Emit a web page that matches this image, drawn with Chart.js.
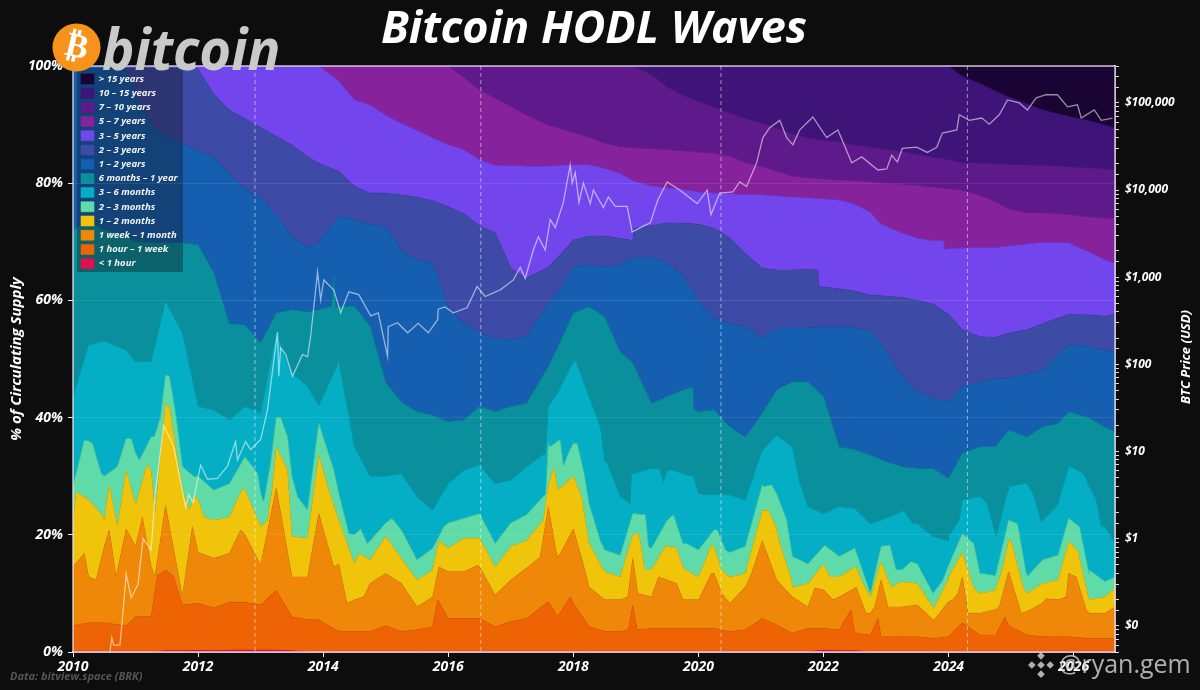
<!DOCTYPE html>
<html><head><meta charset="utf-8"><title>Bitcoin HODL Waves</title>
<style>html,body{margin:0;padding:0;background:#0d0d0d}canvas{display:block}</style>
<script src="https://cdn.jsdelivr.net/npm/chart.js@4/dist/chart.umd.js"></script>
</head><body><canvas id="c" width="1200" height="690"></canvas>
<script>
const years=[2010,2010.25,2010.5,2010.85,2011,2011.25,2011.48,2011.75,2012,2012.25,2012.5,2012.75,2013,2013.25,2013.5,2013.75,2013.93,2014.25,2014.5,2014.75,2015,2015.25,2015.5,2015.75,2016,2016.25,2016.5,2016.75,2017,2017.25,2017.6,2017.75,2018,2018.25,2018.5,2018.75,2018.95,2019.25,2019.5,2019.75,2020,2020.25,2020.5,2020.75,2021.02,2021.25,2021.5,2021.75,2022,2022.25,2022.5,2022.75,2022.92,2023.25,2023.5,2023.75,2024,2024.22,2024.5,2024.75,2024.96,2025.25,2025.5,2025.75,2025.92,2026.25,2026.5,2026.66];
// Upper edge of each age band, in % of circulating supply
const topLt1h=[0.1,0.1,0.1,0.1,0.1,0.1,0.2,0.2,0.3,0.2,0.3,0.3,0.3,0.3,0.2,0.1,0.1,0.1,0.1,0.1,0.1,0.1,0.1,0.1,0.1,0.1,0.1,0.1,0.1,0.1,0.1,0.1,0.1,0.1,0.1,0.1,0.1,0.1,0.1,0.1,0.1,0.1,0.1,0.1,0.1,0.1,0.1,0.1,0.3,0.2,0.2,0.1,0.1,0.1,0.1,0.1,0.1,0.1,0.1,0.1,0.1,0.1,0.1,0.1,0.1,0.1,0.1,0.1];
const top1h1w=[4.5,5,5,4.5,6,6,14,8,8.3,7.5,8.5,8.5,8,10.5,6,5.5,5.5,3.5,3.5,3.5,4.5,3.5,3.8,4.3,5.7,5.7,5.7,4.3,5.2,5.7,8.6,6,8.3,4.3,3.5,3.5,8,4,4,4,4,4,3.5,3.8,5.7,4.6,3.2,4,4,3.8,3.2,2.9,2.6,2.6,2.6,2.3,2.6,5,2.9,2.9,4.5,2.9,2.6,2.6,2.6,2.3,2.3,2.3];
const top1w1m=[14.5,12.8,18,21,18,14.5,25,9.4,17,16,16.8,20,14.8,28,12.8,12.8,23.6,15,8.9,11.7,13.4,11.7,7.7,9.4,13.7,13.7,14.5,9.7,12.3,14.3,24.8,16,21,11.1,8.9,8.9,16,9.4,12.3,8.9,8.9,13.4,8.3,11.1,19,12.3,9.4,7.7,10.6,9.4,10.9,6.6,12.3,7.7,8,5.5,8.6,12.8,6.6,7.2,13.7,6.9,8.3,8.9,13.4,6.6,6.6,7.7];
const top1m2m=[22.5,26,22.5,31,25,31,42.4,27.6,26,22.5,23,27.6,21.4,35,19.7,19.4,33.6,22.5,15,15.7,19.7,16,12.3,14,17.7,19.4,19.4,14.5,18,19,28.4,27.6,30,18.5,13.7,12.8,20,14,18,14.5,12.8,18,12.8,13.4,24,21,11,11.7,15,12.8,14.5,9.4,15.4,12,11.7,7.7,12.8,17,10,10.6,19,10,11.7,12.3,18.8,8.9,9.4,10.9];
const top2m3m=[28.2,36,30,36.4,33.9,36.7,47.3,31.6,30,27.6,28.7,33.3,27,40,30,24.2,39,27,20,19,22,20.8,15.7,17.7,22,22.8,23.6,18.5,22,23.4,35.6,36,35.6,25.3,17.4,16.5,23.6,17.7,22.5,18.5,17.4,20.8,17,18,28.5,27,16.3,15,18,16.3,17.7,10,18,14,15,10,14.8,20.2,13.4,13,22.5,12.8,15.7,16.5,22.8,13,12,12.8];
const top3m6m=[43.5,52.4,53,51.5,49.5,49.5,59.8,54.4,41.9,41.3,39.6,41.9,40.7,54.4,47.6,45.3,42,49.5,35,30,30,30.4,26.5,24.2,28.7,31,31.9,28.7,29.3,31.6,41.9,44.2,49.5,43.6,32.7,26.5,30.4,31.3,31,30.4,27,26.8,26.8,25.9,34.4,37,35,24.8,23.6,24.8,24.5,21.9,22.5,23.9,21.9,19.7,19.7,25.9,26.5,20.2,28.2,28.7,22.5,25.3,31.6,28.2,21.4,18.5];
const top6m1y=[72,73.5,72,71,70,69.8,69.8,69.8,69.5,64.7,56,55.8,52.7,57.8,58.4,58,58.4,59,59,55.6,46,42.7,41,40.4,39.3,39.6,41.9,41,41.9,42.4,48.7,52,57.8,58.9,57.2,51.2,49.3,42.4,43.6,44.7,41,41.3,38.4,36.7,40.7,44.7,46.1,46.1,43.6,35,34.5,33.6,32.8,31.6,31.3,31.3,29.6,33.9,35,35,37.9,36.7,38.4,39,41,39.9,38.4,37.6];
const top1y2y=[100,100,100,99,95,90,88,86.8,85.6,84.4,81.5,79,77.5,74.5,71,69,70,74.3,73.7,73,72.6,68.6,66.9,66.3,58.9,56,54.4,53.5,53.2,53.8,59.5,61.2,65.7,66,65.7,66,67.2,67.4,66.3,64.3,59.8,57,56,55.5,53.6,55.3,55.3,55.3,55.5,55.5,55.3,54.7,52.7,47,44.4,43.3,42.7,45.3,46.1,46.7,46.7,47.3,48,50.7,52.4,52.1,51.5,51.2];
const top2y3y=[100,100,100,100,100,100,100,100,99.5,95.2,92.5,91,89.5,88,86.5,84.5,83.4,82,79.5,78.3,78.3,78,77.6,77,76,74.8,72.7,71.5,65.5,63.8,65.7,67.3,70.3,71,71,70.6,70.2,72.8,73.2,73.2,73,72.3,70.7,68,65.5,65.2,65.2,65.3,62.3,62,61.6,60.9,60.8,60.5,60,59.4,57.6,55,53.8,53.7,54.4,55,56,57,57.6,57.5,57.3,57.7];
const top3y5y=[100,100,100,100,100,100,100,100,100,100,100,100,100,100,100,100,100,97.4,94.2,93.3,91.6,90.2,89,87.7,86.5,85.7,84,83,83,82.9,82.9,83,83.1,83.1,82.5,81.6,80.4,79.5,79.2,78.9,78.5,78.3,78.2,78,78,77.8,77.6,77.5,77.3,77.1,76.4,75,73,71.5,70.6,70.2,68.8,68.9,69,69,69.3,69.6,69.9,69.8,69.8,68.2,66.9,66.3];
const top5y7y=[100,100,100,100,100,100,100,100,100,100,100,100,100,100,100,100,100,100,100,100,100,100,100,100,100,98,95.9,94.5,93.1,91.6,89.9,89.4,88.6,87.8,86.8,86.2,86,85.9,85.7,85.5,85.3,85.1,84.6,83.5,82.8,82,81.2,80.9,80.7,80.5,80.4,80.2,80,79.8,79.6,79.3,79,78.8,77.9,76.8,75.6,74.9,74.9,74.8,74.6,74.2,74,74];
const top7y10y=[100,100,100,100,100,100,100,100,100,100,100,100,100,100,100,100,100,100,100,100,100,100,100,100,100,100,100,100,100,100,100,100,100,100,100,100,100,98.5,96.4,95,94,92.9,92,91,90.2,89.4,88.4,87.7,87.3,87,86.5,86.1,85.8,85.4,84.9,84.4,84,83.5,83.4,83.3,83.2,83.1,83,82.9,82.8,82.6,82.4,82.3];
const top10y15y=[100,100,100,100,100,100,100,100,100,100,100,100,100,100,100,100,100,100,100,100,100,100,100,100,100,100,100,100,100,100,100,100,100,100,100,100,100,100,100,100,100,100,100,100,100,100,100,100,100,100,100,100,100,100,100,100,100,98.2,97,95.7,94.7,93.5,92.5,91.8,91.4,90.6,89.9,89.4];
const topAll=[100,100,100,100,100,100,100,100,100,100,100,100,100,100,100,100,100,100,100,100,100,100,100,100,100,100,100,100,100,100,100,100,100,100,100,100,100,100,100,100,100,100,100,100,100,100,100,100,100,100,100,100,100,100,100,100,100,100,100,100,100,100,100,100,100,100,100,100];
// Additional vertices read at peaks, troughs and steps of individual edges
const moreYears1h1w=[2011.35,2011.6,2015.83,2017.95,2018.88,2019.02,2022.44,2022.87,2024.9];
const moreTop1h1w=[13,13,8.9,9.4,3.8,3.8,7.2,5.7,6];
const moreYears1w1m=[2010.18,2010.37,2010.58,2010.69,2011.11,2011.31,2011.91,2012.68,2014.17,2014.38,2014.65,2015.85,2016.47,2017.47,2017.71,2018.17,2018.87,2019.03,2019.36,2019.65,2020.21,2020.37,2020.85,2021.35,2021.86,2022.15,2022.52,2022.68,2022.82,2023.03,2023.75,2024.07,2024.15,2024.31,2024.81,2025.08,2025.16,2025.56,2025.88,2026.04,2026.2];
const moreTop1w1m=[16.8,12.3,20.8,12.8,23,12.8,21.4,20.8,14.5,8.3,9.4,14.5,14.8,16.2,18,14.5,9.4,10,12.8,11.7,13.4,10,13.4,11.1,10.9,8.9,11.1,6.6,7.7,7.7,5.2,8.9,10,6.6,7.7,9.4,6.6,9.1,9.4,12.8,7.2];
const moreYears1m2m=[2010.05,2010.45,2010.58,2010.71,2011.18,2011.31,2011.54,2011.64,2011.86,2011.94,2012.1,2012.71,2013.11,2013.19,2013.43,2014.09,2014.57,2015.85,2017.52,2017.69,2018.13,2019.05,2019.14,2019.48,2019.65,2019.8,2020.21,2020.37,2021.04,2021.12,2021.3,2021.49,2022.1,2022.52,2022.63,2023.08,2023.75,2023.99,2024.4,2024.87,2025,2025.19,2026.06,2026.22];
const moreTop1m2m=[27.3,23.6,28.5,21.4,31.9,23.6,41.8,35,24.2,26.5,23,27.9,22.5,28.2,31,27.6,16.8,19,22.5,31.5,26.5,20.2,14,18.2,17.7,14,18.2,14,24.2,24.2,18.5,12.3,12.8,14.5,11.7,11.1,7.2,12.3,10.9,14.5,19,11.1,17.4,10];
const moreYears2m3m=[2010.18,2010.31,2010.45,2010.71,2010.93,2011.06,2011.3,2011.4,2011.54,2011.64,2011.94,2012.95,2013.05,2013.16,2013.32,2013.43,2013.59,2014.17,2014.41,2014.6,2014.7,2015.1,2015.85,2015.93,2017.56,2017.63,2017.79,2017.84,2017.92,2018.06,2018.17,2018.43,2019.15,2019.2,2019.6,2019.81,2020.3,2020.43,2021.04,2021.17,2021.41,2022.02,2023.06,2023.16,2023.4,2023.91,2024.4,2024.52,2025.1,2025.24,2026.09,2026.25];
const moreTop2m3m=[36.1,35.6,30.5,31.6,36.4,32.7,36.7,40,47,40.7,29.9,30.5,25.6,32.2,40,36.7,26.5,31,20.2,21,18.5,22.8,19.7,21.4,27,35,36.1,31.6,33.9,35.6,30.5,19,23.4,18,23.4,18.5,20.8,17.4,28.2,28.5,22.5,18.2,18.2,14,15.4,12.3,18.5,13.4,21.9,13.4,21.4,14];
const moreYears3m6m=[2017.56,2018.03,2018.43,2018.54,2018.91,2018.93,2019.38,2019.44,2019.6,2019.92,2020.08,2021.62,2023.28,2023.43,2023.99,2024.17,2024.6,2024.76,2024.95,2025.24,2025.35,2025.48,2025.72,2025.96,2026.15,2026.36,2026.44];
const moreTop3m6m=[34,49.8,38.4,32.2,25.3,30.5,31.3,28.8,31,29.9,26.8,28.8,24.2,21.9,19,22.5,25.6,19.6,27.6,28.8,27,22.2,24.8,31.6,30.5,25.9,21.4];
const moreYears6m1y=[2014.14,2014.17,2014.2,2019.91,2019.92];
const moreTop6m1y=[59,64,59,45.2,41.5];
const moreYears2y3y=[2018.96,2021.91,2021.92];
const moreTop2y3y=[72.3,65.2,62.4];
const moreYears3y5y=[2023.92,2023.93];
const moreTop3y5y=[70.2,68.7];
const none=[];
const bandLabels=['< 1 hour','1 hour – 1 week','1 week – 1 month','1 – 2 months','2 – 3 months','3 – 6 months','6 months – 1 year','1 – 2 years','2 – 3 years','3 – 5 years','5 – 7 years','7 – 10 years','10 – 15 years','> 15 years'];
const bandColors=['#e0124c','#ee6405','#ef8808','#efc40a','#5edba8','#04aec4','#0a8f9c','#155eb0','#3d4ba6','#7346ed','#85229c','#5e1a8a','#3f1478','#1a0433'];
const bandTops=[topLt1h,top1h1w,top1w1m,top1m2m,top2m3m,top3m6m,top6m1y,top1y2y,top2y3y,top3y5y,top5y7y,top7y10y,top10y15y,topAll];
const bandMoreYears=[none,moreYears1h1w,moreYears1w1m,moreYears1m2m,moreYears2m3m,moreYears3m6m,moreYears6m1y,none,moreYears2y3y,moreYears3y5y,none,none,none,none];
const bandMoreTops=[none,moreTop1h1w,moreTop1w1m,moreTop1m2m,moreTop2m3m,moreTop3m6m,moreTop6m1y,none,moreTop2y3y,moreTop3y5y,none,none,none,none];
const priceYears=[2010.59,2010.62,2010.65,2010.75,2010.78,2010.85,2010.93,2011.04,2011.12,2011.25,2011.31,2011.45,2011.61,2011.69,2011.8,2011.85,2011.92,2012.04,2012.15,2012.31,2012.47,2012.6,2012.63,2012.76,2012.84,2013,2013.11,2013.27,2013.29,2013.32,2013.4,2013.51,2013.67,2013.75,2013.8,2013.91,2013.96,2014.01,2014.17,2014.28,2014.41,2014.57,2014.76,2014.88,2015.03,2015.04,2015.19,2015.35,2015.52,2015.68,2015.83,2015.84,2015.95,2016.08,2016.3,2016.46,2016.59,2016.83,2017.04,2017.15,2017.23,2017.36,2017.44,2017.55,2017.63,2017.71,2017.84,2017.95,2017.98,2018.03,2018.09,2018.16,2018.27,2018.32,2018.48,2018.56,2018.67,2018.86,2018.94,2019.07,2019.23,2019.35,2019.5,2019.7,2019.98,2020.14,2020.2,2020.34,2020.55,2020.66,2020.77,2020.93,2021.03,2021.14,2021.3,2021.41,2021.51,2021.62,2021.83,2022.05,2022.23,2022.45,2022.61,2022.87,2023.01,2023.09,2023.18,2023.26,2023.49,2023.66,2023.81,2023.9,2024.13,2024.17,2024.33,2024.53,2024.65,2024.81,2024.94,2025.13,2025.26,2025.4,2025.56,2025.74,2025.9,2026.06,2026.12,2026.33,2026.44,2026.62];
const priceUsd=[0.05,0.073,0.06,0.06,0.1,0.39,0.21,0.3,1,0.74,3,20,11.3,5.7,2.3,3.2,2.6,7,4.8,4.9,6.8,13,8,13,10.5,13.7,30,235,73,155,130,73,130,122,210,1150,550,930,710,390,680,630,360,390,123,270,300,230,295,230,325,430,455,390,445,780,600,715,930,1290,970,2050,2900,2050,4570,3700,7200,19500,12000,15800,7200,12000,7000,10000,6300,8300,6500,6500,3300,3700,4200,7700,12400,10000,7000,10000,5200,9200,9500,12400,11000,20500,40000,52000,63000,40000,33000,49000,69000,40000,49000,20500,24000,17000,17500,25000,21000,30000,31000,27000,31000,45000,49000,73000,63000,67000,57000,73000,108000,100000,83000,114000,124000,124000,90000,95000,67000,83000,63000,67000];
const halvings=[2012.91,2016.52,2020.36,2024.3];
const decadeLabels={0.1:'$0',1:'$1',10:'$10',100:'$100',1000:'$1,000',10000:'$10,000',100000:'$100,000'};

const FF='"Open Sans", "Noto Sans", sans-serif';
const boldIt=(size)=>({family:FF,size,weight:'bold',style:'italic'});
const edgePoints=(b)=>years.map((x,i)=>({x,y:bandTops[b][i]}))
  .concat(bandMoreYears[b].map((x,i)=>({x,y:bandMoreTops[b][i]})))
  .sort((p,q)=>p.x-q.x);
const datasets=bandLabels.map((label,b)=>({
  label,type:'line',yAxisID:'y',
  data:edgePoints(b),
  backgroundColor:bandColors[b],borderColor:bandColors[b],borderWidth:0.6,
  pointRadius:0,tension:0,fill:b?'-1':'origin'
}));
datasets.push({label:'BTC Price',type:'line',yAxisID:'y1',order:-1,
  data:priceYears.map((x,i)=>({x,y:priceUsd[i]})),
  borderColor:'rgba(255,255,255,0.55)',borderWidth:1.3,pointRadius:0,tension:0,fill:false});

const overlay={id:'overlay',
  beforeLayout(chart){ if(chart.legend) chart.legend._layers=()=>[]; },
  afterLayout(chart){ const l=chart.legend; if(l){l.left=chart.chartArea.left+3.8;l.top=chart.chartArea.top+3.8;} },
  afterDatasetsDraw(chart){
    const {ctx,chartArea:a,scales}=chart;
    ctx.save();
    ctx.strokeStyle='rgba(255,255,255,0.5)';ctx.lineWidth=1;ctx.setLineDash([4,3]);
    halvings.forEach(h=>{const x=scales.x.getPixelForValue(h);ctx.beginPath();ctx.moveTo(x,a.top);ctx.lineTo(x,a.bottom);ctx.stroke();});
    ctx.setLineDash([]);
    ctx.strokeStyle='rgba(235,225,240,0.85)';ctx.lineWidth=1.5;
    ctx.strokeRect(a.left,a.top,a.right-a.left,a.bottom-a.top);
    ctx.fillStyle='rgba(13,13,13,0.35)';ctx.fillRect(77,68,106,204);
    ctx.restore();
    if(chart.legend) chart.legend.draw();
  },
  afterDraw(chart){
    const ctx=chart.ctx;
    ctx.save();
    // right axis title, reading upward
    ctx.save();ctx.translate(1186,357);ctx.rotate(-Math.PI/2);
    ctx.fillStyle='#fff';ctx.font='italic bold 13px '+FF;ctx.textAlign='center';ctx.textBaseline='middle';
    ctx.fillText('BTC Price (USD)',0,0);ctx.restore();
    // logo
    ctx.fillStyle='#f7931a';ctx.beginPath();ctx.arc(76.5,47.5,24,0,Math.PI*2);ctx.fill();
    ctx.save();ctx.translate(76.5,48);ctx.rotate(0.24);
    ctx.fillStyle='#fff';ctx.font='bold 34px "DejaVu Sans"';ctx.textAlign='center';ctx.textBaseline='middle';
    ctx.fillText('₿',0,0);ctx.restore();
    ctx.save();ctx.translate(102,70);ctx.scale(0.94,1);
    ctx.fillStyle='#c9c9c9';ctx.font='italic bold 58px '+FF;ctx.textBaseline='alphabetic';ctx.textAlign='left';
    ctx.fillText('bitcoin',0,0);ctx.restore();
    // credit
    ctx.textAlign='left';ctx.textBaseline='alphabetic';
    ctx.fillStyle='#555';ctx.font='italic bold 11px '+FF;ctx.fillText('Data: bitview.space (BRK)',10,680);
    // watermark
    ctx.fillStyle='rgba(205,205,205,0.85)';ctx.font='25px "Open Sans"';ctx.fillText('@ryan.gem',1059,673);
    ctx.translate(1041,665);ctx.rotate(Math.PI/4);
    [[0,0],[-6.5,-6.5],[6.5,6.5],[6.5,-6.5],[-6.5,6.5]].forEach(([dx,dy])=>{ctx.fillRect(dx-2.7,dy-2.7,5.4,5.4);});
    ctx.restore();
  }
};

new Chart(document.getElementById('c'),{
  type:'line',
  data:{datasets},
  plugins:[overlay],
  options:{
    responsive:false,animation:false,devicePixelRatio:1,
    layout:{padding:0},
    interaction:{mode:'nearest',intersect:true},
    scales:{
      x:{type:'linear',min:2010,max:2026.66,
        afterFit(s){s.height=38;},
        grid:{drawOnChartArea:false,color:'#eee',tickLength:5},
        border:{color:'#eee',width:1.5},
        ticks:{stepSize:2,includeBounds:false,color:'#fff',font:boldIt(14),maxRotation:0,padding:2,callback:v=>String(v)}},
      y:{type:'linear',position:'left',min:0,max:100,
        afterFit(s){s.width=73;},
        grid:{color:'rgba(255,255,255,0.09)',tickColor:'#eee',tickLength:5,z:1},
        border:{display:false},
        ticks:{stepSize:20,color:'#fff',font:boldIt(14),padding:5,callback:v=>v+'%'},
        title:{display:true,text:'% of Circulating Supply',color:'#fff',font:boldIt(15),padding:{top:8,bottom:0}}},
      y1:{type:'logarithmic',position:'right',min:0.05,max:265000,
        afterFit(s){s.width=85;},
        grid:{drawOnChartArea:false,color:'#ddd',tickLength:4},
        border:{color:'#eee',width:1.5},
        ticks:{autoSkip:false,color:'#fff',font:boldIt(12),padding:6,maxRotation:0,callback:v=>decadeLabels[v]||''}}
    },
    plugins:{
      tooltip:{enabled:false},
      title:{display:true,text:'Bitcoin HODL Waves',color:'#fff',fullSize:false,font:boldIt(45),padding:{top:3,bottom:9}},
      legend:{display:true,position:'chartArea',align:'start',
        labels:{boxWidth:13,boxHeight:10,padding:4.2,color:'#f2f2f2',font:boldIt(9.5),
          filter:i=>i.text!=='BTC Price',
          sort:(a,b)=>b.datasetIndex-a.datasetIndex}}
    }
  }
});
</script></body></html>
